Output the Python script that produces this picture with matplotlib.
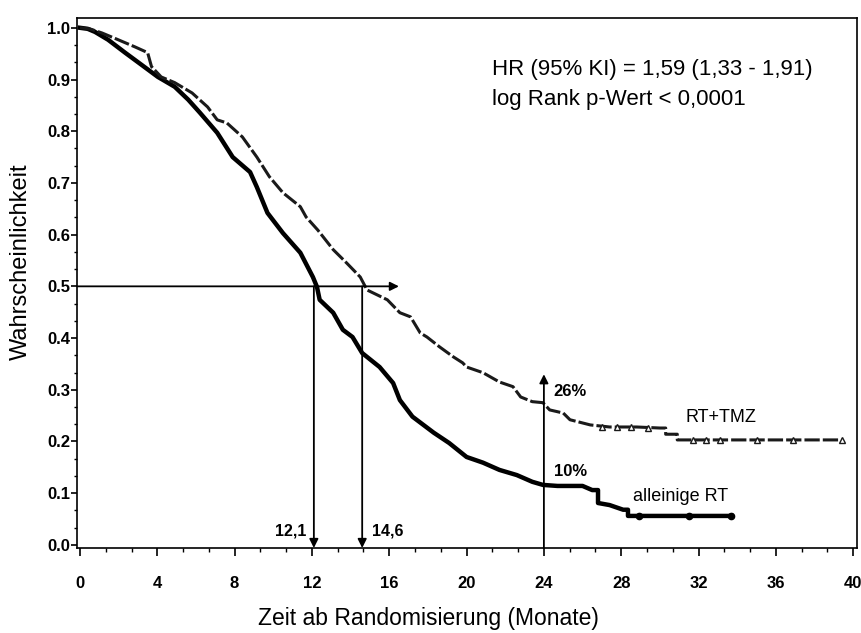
import matplotlib
matplotlib.use("Agg")
import matplotlib.pyplot as plt
from matplotlib.ticker import AutoMinorLocator

plt.rcParams['font.family'] = ['Liberation Sans', 'DejaVu Sans']

# --- data (Kaplan-Meier curves) ---
rt_time = [0, 0.4, 0.78, 1.45, 2.33, 3.2, 4.03, 4.9, 5.6, 6.2, 7.1, 7.9, 8.8, 9.15,
           9.7, 10.5, 11.4, 12.05, 12.26, 12.4, 13.1, 13.6, 14.1, 14.6, 15.5, 16.2,
           16.55, 17.2, 18.3, 19.1, 20.0, 20.85, 21.7, 22.6, 23.4, 23.95, 24.7, 26.0,
           26.5, 26.8, 26.8, 27.4, 28.1, 28.35, 28.35, 33.7]
rt_surv = [1.0, 0.998, 0.992, 0.977, 0.952, 0.928, 0.905, 0.886, 0.861, 0.836, 0.797,
           0.750, 0.721, 0.692, 0.642, 0.603, 0.565, 0.518, 0.499, 0.474, 0.449, 0.416,
           0.402, 0.371, 0.344, 0.313, 0.280, 0.248, 0.217, 0.197, 0.170, 0.159, 0.145,
           0.135, 0.122, 0.116, 0.114, 0.114, 0.106, 0.106, 0.081, 0.077, 0.068, 0.068,
           0.056, 0.056]
rt_cens_time = [28.9, 31.5, 33.7]
rt_cens_surv = [0.056, 0.056, 0.056]

tmz_time = [0, 0.5, 1.14, 1.97, 2.85, 3.5, 3.7, 4.2, 4.9, 5.8, 6.6, 7.1, 7.6, 8.4, 9.15,
            9.8, 10.5, 11.4, 11.7, 12.3, 13.1, 13.8, 14.5, 14.85, 15.9, 16.55, 17.1,
            17.6, 17.95, 18.6, 19.3, 19.8, 20.0, 20.85, 21.7, 22.4, 22.8, 23.4, 23.95,
            24.3, 25.0, 25.35, 26.4, 27.4, 28.8, 30.0, 30.3, 30.3, 30.9, 30.9, 39.4]
tmz_surv = [1.0, 0.998, 0.990, 0.977, 0.963, 0.952, 0.925, 0.905, 0.894, 0.874, 0.847,
            0.822, 0.816, 0.789, 0.750, 0.712, 0.681, 0.654, 0.634, 0.609, 0.571, 0.545,
            0.518, 0.493, 0.474, 0.449, 0.441, 0.410, 0.402, 0.383, 0.364, 0.352, 0.344,
            0.333, 0.315, 0.306, 0.286, 0.277, 0.275, 0.261, 0.255, 0.242, 0.232, 0.228,
            0.228, 0.226, 0.226, 0.214, 0.214, 0.203, 0.203]
tmz_cens_time = [27.0, 27.8, 28.5, 29.4, 31.7, 32.4, 33.1, 35.0, 36.9, 39.4]
tmz_cens_surv = [0.228, 0.228, 0.228, 0.227, 0.203, 0.203, 0.203, 0.203, 0.203, 0.203]

x_ticks = [0, 4, 8, 12, 16, 20, 24, 28, 32, 36, 40]
y_ticks = [0.0, 0.1, 0.2, 0.3, 0.4, 0.5, 0.6, 0.7, 0.8, 0.9, 1.0]
median_rt = 12.1
median_tmz = 14.6
landmark = 24

fig = plt.figure(figsize=(8.61, 6.33), dpi=100)
ax = fig.add_axes([0.0894, 0.1343, 0.9060, 0.8373])

ax.plot(rt_time, rt_surv, color='black', lw=3.2, solid_joinstyle='round')
ax.plot(rt_cens_time, rt_cens_surv, 'o', color='black', ms=4.5)
ax.plot(tmz_time, tmz_surv, color='#1a1a1a', lw=2.2, linestyle=(0, (5, 1)))
ax.plot(tmz_cens_time, tmz_cens_surv, '^', mfc='white', mec='#1a1a1a', ms=4, mew=1)

ax.set_xlim(-0.155, 40.2)
ax.set_ylim(-0.006, 1.019)
ax.set_xticks(x_ticks)
ax.set_yticks(y_ticks)
ax.set_yticklabels([f"{v:.1f}" for v in y_ticks])
ax.xaxis.set_minor_locator(AutoMinorLocator(3))
ax.yaxis.set_minor_locator(AutoMinorLocator(3))
ax.tick_params(axis='x', which='major', direction='out', length=6, width=1.2, pad=14,
               labelsize=12)
ax.tick_params(axis='x', which='minor', direction='out', length=3, width=1)
ax.tick_params(axis='y', which='major', direction='out', length=4, width=1.2, pad=1,
               labelsize=12)
ax.tick_params(axis='y', which='minor', direction='out', length=2, width=1)
for lab in ax.get_xticklabels() + ax.get_yticklabels():
    lab.set_fontweight('bold')
for sp in ax.spines.values():
    sp.set_linewidth(1.2)

ax.set_xlabel('Zeit ab Randomisierung (Monate)', fontsize=16.5)
ax.set_ylabel('Wahrscheinlichkeit', fontsize=17)
ax.xaxis.set_label_coords(0.450, -0.112)
ax.yaxis.set_label_coords(-0.058, 0.54)

arrow = dict(arrowstyle='-|>', color='black', lw=1.3, mutation_scale=13,
             shrinkA=0, shrinkB=0)
ax.annotate('', xy=(16.5, 0.5), xytext=(-0.155, 0.5), arrowprops=arrow)
ax.annotate('', xy=(median_rt, -0.006), xytext=(median_rt, 0.5), arrowprops=arrow)
ax.annotate('', xy=(median_tmz, -0.006), xytext=(median_tmz, 0.5), arrowprops=arrow)
ax.annotate('', xy=(landmark, 0.33), xytext=(landmark, -0.006), arrowprops=arrow)

ax.text(11.7, 0.027, '12,1', ha='right', va='center', fontsize=11.5, fontweight='bold')
ax.text(15.1, 0.027, '14,6', ha='left', va='center', fontsize=11.5, fontweight='bold')
ax.text(24.5, 0.296, '26%', ha='left', va='center', fontsize=12, fontweight='bold')
ax.text(24.5, 0.141, '10%', ha='left', va='center', fontsize=12, fontweight='bold')
ax.text(31.3, 0.246, 'RT+TMZ', ha='left', va='center', fontsize=13)
ax.text(28.6, 0.093, 'alleinige RT', ha='left', va='center', fontsize=13)
ax.text(21.3, 0.919, 'HR (95% KI) = 1,59 (1,33 - 1,91)', ha='left', va='center',
        fontsize=16)
ax.text(21.3, 0.861, 'log Rank p-Wert < 0,0001', ha='left', va='center', fontsize=16)

fig.savefig('out.png', dpi=100)
